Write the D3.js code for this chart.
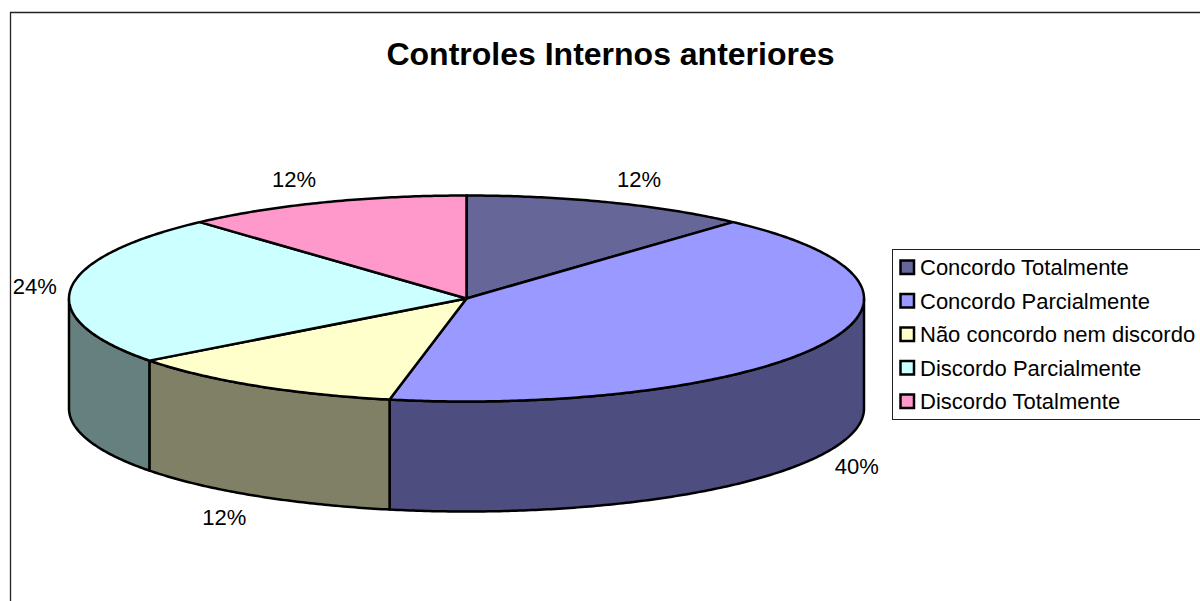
<!DOCTYPE html>
<html>
<head>
<meta charset="utf-8">
<script src="https://cdn.jsdelivr.net/npm/d3@7"></script>
<style>
  html, body { margin: 0; padding: 0; background: #fff; overflow: hidden; }
  text { font-family: "Liberation Sans", Arial, sans-serif; fill: #000; }
</style>
</head>
<body>
<div id="container"></div>
<script>
/* DATA */
const categories = ["Concordo Totalmente", "Concordo Parcialmente", "Não concordo nem discordo", "Discordo Parcialmente", "Discordo Totalmente"];
// sweep of each slice as it is drawn in the picture
const drawnShares = [11.7, 41.4, 11.6, 23.6, 11.7];
// printed labels
const percentLabels = ["12%", "40%", "12%", "24%", "12%"];
const topColors = ["#666699", "#9999FF", "#FFFFCC", "#CCFFFF", "#FF99CC"];
const sideColors = ["#4D4D80", "#4D4D80", "#808066", "#668080", "#804D66"];
const title = "Controles Internos anteriores";

/* CONSTANTS */
const width = 1200, height = 601;
const cx = 466.5, cy = 298.5, rx = 397.5, ry = 103, depth = 110;

const svg = d3.select("#container")
  .append("svg")
  .attr("width", width)
  .attr("height", height)
  .style("display", "block");

// chart frame, runs off the right and bottom edge
svg.append("path")
  .attr("d", `M10.5,${height + 2}V12.5H${width + 2}`)
  .attr("fill", "none")
  .attr("stroke", "#222")
  .attr("stroke-width", 1.3);

svg.append("text")
  .attr("x", 610.5)
  .attr("y", 65)
  .attr("text-anchor", "middle")
  .attr("font-size", 32)
  .attr("font-weight", "bold")
  .text(title);

/* SCALES */
const xScale = d3.scaleLinear().domain([-1, 1]).range([cx - rx, cx + rx]);
const yScale = d3.scaleLinear().domain([-1, 1]).range([cy + ry, cy - ry]);

const px = a => xScale(Math.sin(a));
const py = a => yScale(Math.cos(a));

const pie = d3.pie().sort(null).startAngle(0).endAngle(2 * Math.PI);
const slices = pie(drawnShares);

const rimPoints = (a0, a1) => {
  const n = Math.max(2, Math.ceil((a1 - a0) / 0.01));
  return d3.range(n + 1).map(i => a0 + (a1 - a0) * i / n);
};
const line = d3.line();

/* SIDE WALLS - only the front half of the disc shows */
const frontStart = Math.PI / 2, frontEnd = 3 * Math.PI / 2;

slices.forEach((s, i) => {
  const a0 = Math.max(s.startAngle, frontStart);
  const a1 = Math.min(s.endAngle, frontEnd);
  if (a1 <= a0) return;
  const rim = rimPoints(a0, a1);
  const top = rim.map(a => [px(a), py(a)]);
  const bottom = rim.slice().reverse().map(a => [px(a), py(a) + depth]);
  svg.append("path")
    .attr("d", line(top.concat(bottom)) + "Z")
    .attr("fill", sideColors[i])
    .attr("stroke", "#000")
    .attr("stroke-width", 2.5)
    .attr("stroke-linejoin", "round");
});

/* TOP FACE */
slices.forEach((s, i) => {
  const rim = rimPoints(s.startAngle, s.endAngle).map(a => [px(a), py(a)]);
  svg.append("path")
    .attr("d", line([[cx, cy]].concat(rim)) + "Z")
    .attr("fill", topColors[i])
    .attr("stroke", "#000")
    .attr("stroke-width", 2.5)
    .attr("stroke-linejoin", "round");
});

/* PERCENT LABELS */
slices.forEach((s, i) => {
  const mid = (s.startAngle + s.endAngle) / 2;
  const front = mid > frontStart && mid < frontEnd;
  const lx = px(mid) + 26 * Math.sign(Math.sin(mid)) + 10 * Math.sin(mid);
  const ly = py(mid) + (front ? depth : 0) - 25 * Math.cos(mid);
  svg.append("text")
    .attr("x", lx)
    .attr("y", ly + 8)
    .attr("text-anchor", "middle")
    .attr("font-size", 22)
    .text(percentLabels[i]);
});

/* LEGEND */
const legendY = d3.scalePoint().domain(categories).range([267, 401]);

svg.append("rect")
  .attr("x", 892.5)
  .attr("y", 249.5)
  .attr("width", 320)
  .attr("height", 170)
  .attr("fill", "#fff")
  .attr("stroke", "#222")
  .attr("stroke-width", 1);

categories.forEach((c, i) => {
  svg.append("rect")
    .attr("x", 900.5)
    .attr("y", legendY(c) - 6.5)
    .attr("width", 13.5)
    .attr("height", 13.5)
    .attr("fill", topColors[i])
    .attr("stroke", "#000")
    .attr("stroke-width", 2.5);
  svg.append("text")
    .attr("x", 920)
    .attr("y", legendY(c) + 8)
    .attr("font-size", 22)
    .text(c);
});
</script>
</body>
</html>
